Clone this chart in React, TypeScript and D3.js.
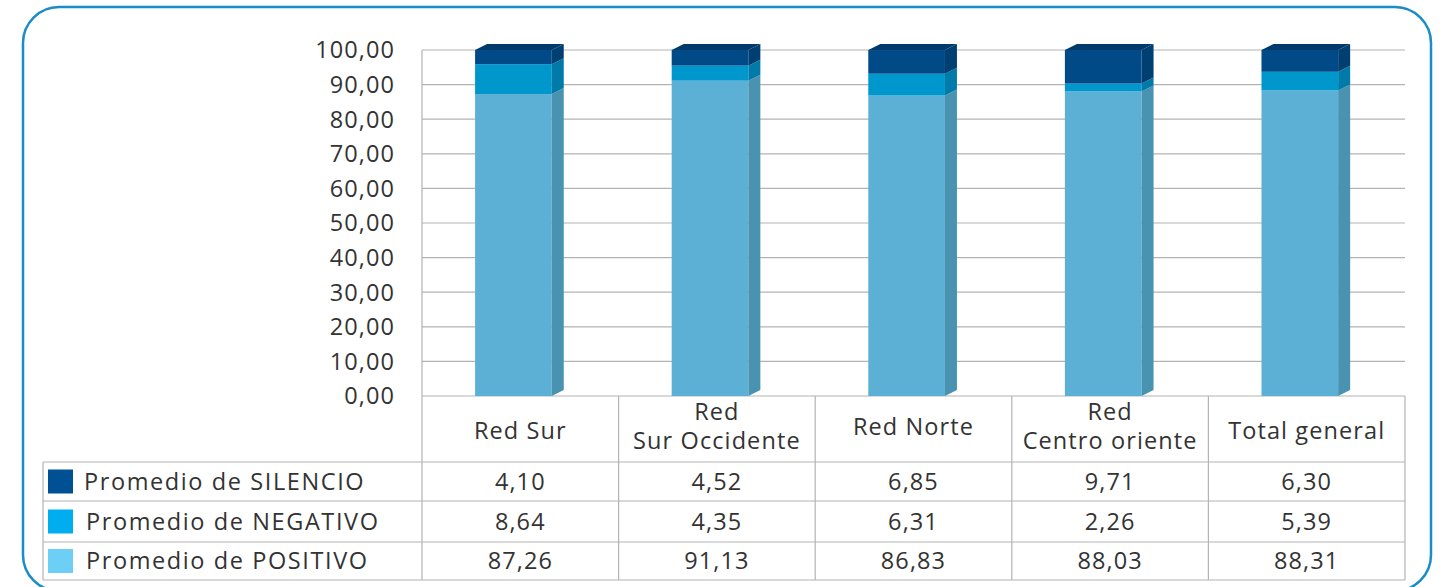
import * as d3 from "d3";

const categories = [["Red Sur"], ["Red", "Sur Occidente"], ["Red Norte"], ["Red", "Centro oriente"], ["Total general"]];
const silencio = [4.1, 4.52, 6.85, 9.71, 6.3];
const negativo = [8.64, 4.35, 6.31, 2.26, 5.39];
const positivo = [87.26, 91.13, 86.83, 88.03, 88.31];
const yTicks = [0, 10, 20, 30, 40, 50, 60, 70, 80, 90, 100];

const seriesNames = ["Promedio de SILENCIO", "Promedio de NEGATIVO", "Promedio de POSITIVO"];
const legendColors = ["#005094", "#00aeef", "#6dcff6"];
// front / side / top shades for bars (bottom to top: positivo, negativo, silencio)
const barShades = [
  { front: "#5cb0d5", side: "#4993b1", top: "#6dbfe0" },
  { front: "#0097cd", side: "#007aa8", top: "#00a3dc" },
  { front: "#004b87", side: "#003f72", top: "#003a6c" },
];

const W = 1440;
const H = 587;
const FONT = "'Open Sans', 'Noto Sans', sans-serif";
const FS = 23.5;
const LS = 1.1;
const TXT = "#333";
const GRID = "#b3b3b3";

export default function App() {
  const keys = categories.map((c) => c.join(" "));
  const x = d3.scaleBand<string>().domain(keys).range([422, 1405]).padding(0);
  const y = d3.scaleLinear().domain([0, 100]).range([396, 50]);
  const bw = x.bandwidth();
  const depthX = 12;
  const depthY = -6;

  const rows = keys.map((k, i) => ({ key: k, vals: [positivo[i], negativo[i], silencio[i]] }));
  const stack = d3.stack<any>().keys(["0", "1", "2"]).value((d, key) => d.vals[+key])(rows);

  const tableRows = [silencio, negativo, positivo];
  const rowY = [462, 501, 542, 580];
  const fmt = (v: number) => v.toFixed(2).replace(".", ",");

  return (
    <div style={{ position: "absolute", left: 0, top: 0 }}>
      <svg width={W} height={H} style={{ display: "block", background: "#fff" }}>
        <rect x={23} y={7} width={1408} height={584} rx={36} fill="none" stroke="#1a8cc6" strokeWidth={2.5} />

        {/* gridlines */}
        {yTicks.map((t) => (
          <line key={t} x1={x.range()[0]} x2={x.range()[1]} y1={y(t)} y2={y(t)} stroke={GRID} strokeWidth={1.2} />
        ))}
        <line x1={422} x2={422} y1={y(100)} y2={rowY[3]} stroke={GRID} strokeWidth={1.2} />
        {yTicks.map((t) => (
          <text key={t} x={395} y={y(t)} dy="0.36em" textAnchor="end" fontFamily={FONT} fontSize={FS} letterSpacing={LS} fill={TXT}>
            {fmt(t)}
          </text>
        ))}

        {/* bars */}
        {stack.map((layer, si) =>
          layer.map((d, i) => {
            const x0 = x(keys[i])! + bw * 0.27;
            const x1 = x0 + bw * 0.39;
            const yb = y(d[0]);
            const yt = y(d[1]);
            const sh = barShades[si];
            const isTop = si === stack.length - 1;
            return (
              <g key={si + "-" + i}>
                <rect x={x0} y={yt} width={x1 - x0} height={yb - yt} fill={sh.front} />
                <path
                  d={`M${x1},${yb}L${x1 + depthX},${yb + depthY}L${x1 + depthX},${yt + depthY}L${x1},${yt}Z`}
                  fill={sh.side}
                />
                {isTop && (
                  <path
                    d={`M${x0},${yt}L${x0 + depthX},${yt + depthY}L${x1 + depthX},${yt + depthY}L${x1},${yt}Z`}
                    fill={sh.top}
                  />
                )}
              </g>
            );
          })
        )}

        {/* table */}
        <g stroke={GRID} strokeWidth={1.2} fill="none">
          {rowY.map((ry) => (
            <line key={ry} x1={43} x2={1405} y1={ry} y2={ry} />
          ))}
          <line x1={43} x2={43} y1={rowY[0]} y2={rowY[3]} />
          {keys.map((k) => (
            <line key={k} x1={x(k)! + bw} x2={x(k)! + bw} y1={396} y2={rowY[3]} />
          ))}
        </g>
        {categories.map((lines, i) => {
          const cx = x(keys[i])! + bw / 2;
          const cy = lines.length > 1 ? 426 : i === 2 ? 427 : 431;
          return (
            <text key={i} x={cx} textAnchor="middle" fontFamily={FONT} fontSize={FS} letterSpacing={LS} fill={TXT}>
              {lines.map((ln, j) => (
                <tspan key={j} x={cx} y={cy + (j - (lines.length - 1) / 2) * 29} dy="0.36em">
                  {ln}
                </tspan>
              ))}
            </text>
          );
        })}
        {tableRows.map((vals, r) => {
          const cy = (rowY[r] + rowY[r + 1]) / 2;
          return (
            <g key={r}>
              <rect x={48} y={cy - 12} width={25} height={24} fill={legendColors[r]} />
              <text x={r === 0 ? 84 : 86} y={cy} dy="0.36em" fontFamily={FONT} fontSize={FS} letterSpacing={1.6} fill={TXT}>
                {seriesNames[r]}
              </text>
              {vals.map((v, i) => (
                <text
                  key={i}
                  x={x(keys[i])! + bw / 2}
                  y={cy}
                  dy="0.36em"
                  textAnchor="middle"
                  fontFamily={FONT}
                  fontSize={FS}
                  letterSpacing={LS}
                  fill={TXT}
                >
                  {fmt(v)}
                </text>
              ))}
            </g>
          );
        })}
      </svg>
    </div>
  );
}
